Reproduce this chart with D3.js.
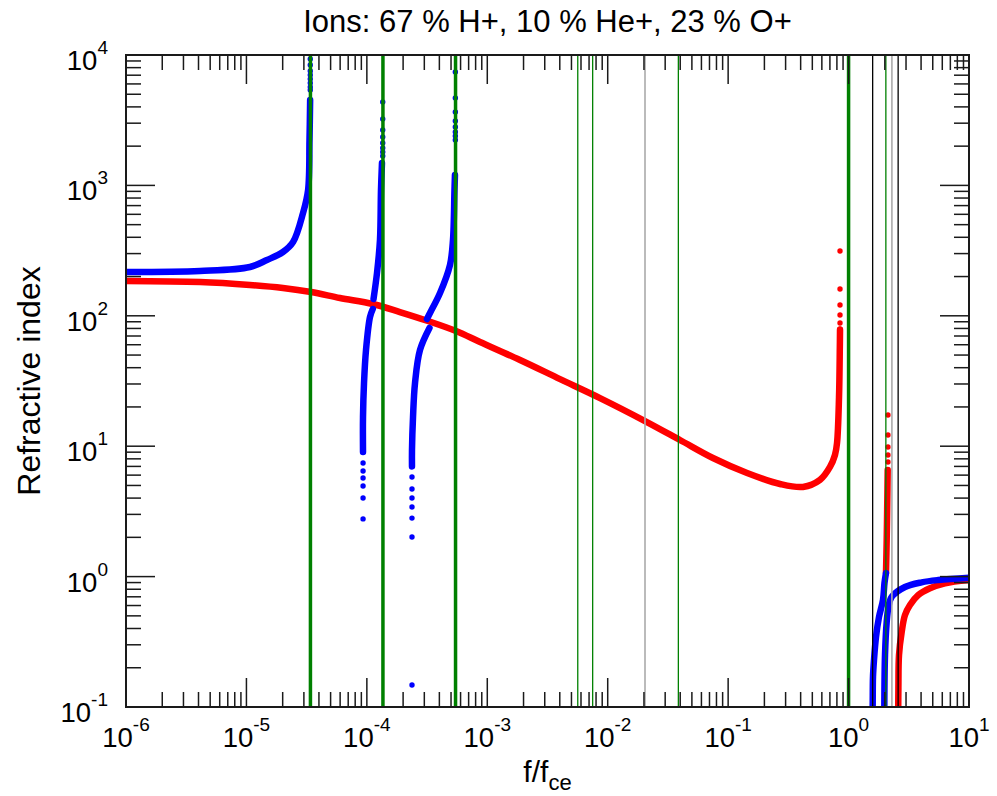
<!DOCTYPE html>
<meta charset="utf-8">
<style>
body { margin: 0; background: #fff; }
text { font-family: 'Liberation Sans', Arial, Helvetica, sans-serif; fill: #000; }
.frame { fill: none; stroke: #1a1a1a; stroke-width: 2px; }
.tick { stroke: #1a1a1a; stroke-width: 1.5px; }
</style>
<body>
<svg width="997" height="796"></svg>
<script src="https://d3js.org/d3.v7.min.js"></script>
<script>

// vertical marker frequencies (f/fce)
var cyclotronLines = [3.40e-5, 1.36e-4, 5.45e-4, 1.0];   // thick green
var plasmaLines    = [5.64e-3, 7.5e-3, 0.0386, 2.04];    // thin green
var hybridLines    = [0.0204, 2.29];                     // grey
var cutoffLines    = [1.585, 2.58];                      // black

// red mode branches [f/fce, refractive index]
var redMain = [[1e-6,185],[4.12e-6,181.6],[1.07e-5,172.3],[2.01e-5,163.4],[3.44e-5,152.2],
  [5.98e-5,136.9],[1.12e-4,123.1],[1.88e-4,106.9],[3.22e-4,91.2],[5.50e-4,76.4],[8.70e-4,63.0],
  [1.87e-3,45.8],[4.02e-3,32.7],[8.63e-3,23.4],[0.0204,15.6],[0.0398,11.16],[0.0748,8.12],
  [0.1436,6.23],[0.2696,5.13],[0.418,4.87],[0.579,5.51],[0.701,6.93],[0.771,8.56],[0.802,10.58],
  [0.833,23.8],[0.846,57.6],[0.849,78]];
var redMainDots = [[0.849,314],[0.849,160.6],[0.849,121],[0.849,101.4],[0.849,88.1],[0.849,79.2]];
var redZ = [[2.045,1.066],[2.073,1.909],[2.097,3.87],[2.113,6.57]];
var redZDots = [[2.124,7.56],[2.124,8.56],[2.124,9.86],[2.124,12.19],[2.124,17.35]];
var redX = [[2.583,0.0915],[2.593,0.1399],[2.623,0.2506],[2.761,0.376],[2.941,0.5076],[3.236,0.6057],
  [3.793,0.7227],[4.745,0.8135],[6.319,0.8885],[10,0.9416]];

// blue mode branches
var blueO = [[1e-6,216.7],[4.12e-6,220.6],[1.07e-5,236.7],[1.48e-5,267.9],[2.01e-5,308.5],
  [2.44e-5,368.1],[2.95e-5,614],[3.25e-5,921.6],[3.34e-5,2229],[3.38e-5,4517]];
var blueODots = [[3.39e-5,9318],[3.39e-5,8381],[3.39e-5,7539],[3.39e-5,7025],[3.39e-5,6546],
  [3.39e-5,6100],[3.39e-5,5683],[3.39e-5,5390]];
var blueHe = [[1.136e-4,134.5],[1.214e-4,212.9],[1.285e-4,381.3],[1.310e-4,921.6],[1.335e-4,1485]];
var blueHeDots = [[1.355e-4,4361],[1.355e-4,3230],[1.355e-4,2659],[1.355e-4,2351],[1.355e-4,2115],
  [1.355e-4,1936],[1.355e-4,1804],[1.355e-4,1681]];
var blueHeLow = [[1.12e-4,112.7],[1.062e-4,97.9],[9.84e-5,54.7],[9.47e-5,30.5],[9.29e-5,16.74],[9.29e-5,9.03]];
var blueHeLowDots = [[9.3e-5,7.43],[9.3e-5,6.45],[9.3e-5,5.70],[9.3e-5,4.95],[9.3e-5,4.01],[9.3e-5,2.77]];
var blueH = [[3.157e-4,94.5],[3.345e-4,105.1],[4.05e-4,149.5],[4.90e-4,245.3],[5.19e-4,381.3],
  [5.34e-4,921.6],[5.39e-4,1202]];
var blueHDots = [[5.43e-4,7406],[5.43e-4,4679],[5.43e-4,3655],[5.43e-4,3118],[5.43e-4,2805],
  [5.43e-4,2568],[5.43e-4,2392],[5.43e-4,2229]];
var blueHLow = [[3.31e-4,80.6],[2.763e-4,54.7],[2.511e-4,30.5],[2.417e-4,16.74],[2.37e-4,9.35],[2.37e-4,7.0]];
var blueHLowDots = [[2.37e-4,5.81],[2.37e-4,4.70],[2.37e-4,4.01],[2.37e-4,3.42],[2.37e-4,2.81],
  [2.37e-4,2.01],[2.37e-4,0.1475]];
var blueZ = [[1.574,0.0795],[1.585,0.1],[1.595,0.170],[1.626,0.229],[1.689,0.344],[1.789,0.490],
  [1.931,0.662],[1.987,0.893],[2.045,1.066]];
var blueO2 = [[1.980,0.0915],[2.007,0.2506],[2.073,0.4485],[2.137,0.574],[2.280,0.6976],[2.941,0.832],
  [4.047,0.904],[5.560,0.9416],[10,0.981]];

var xDecades = [-6, -5, -4, -3, -2, -1, 0, 1];
var yDecades = [-1, 0, 1, 2, 3, 4];

var svg = d3.select("svg"),
    margin = {top: 55, right: 28, bottom: 89, left: 126},
    width = 997 - margin.left - margin.right,
    height = 796 - margin.top - margin.bottom;

var x = d3.scaleLog().domain([1e-6, 10]).range([0, width]);
var y = d3.scaleLog().domain([0.1, 1e4]).range([height, 0]);

var g = svg.append("g").attr("transform", "translate(" + margin.left + "," + margin.top + ")");

g.append("clipPath").attr("id", "plot-clip")
  .append("rect").attr("width", width).attr("height", height);

var line = d3.line()
    .x(function(d) { return x(d[0]); })
    .y(function(d) { return y(d[1]); })
    .curve(d3.curveCatmullRom.alpha(0.5));

var curves = g.append("g").attr("clip-path", "url(#plot-clip)");

function branch(data, color) {
  curves.append("path").datum(data)
    .attr("d", line)
    .attr("fill", "none")
    .attr("stroke", color)
    .attr("stroke-width", 6.5)
    .attr("stroke-linecap", "round");
}
function dots(data, color) {
  curves.selectAll(null).data(data).enter().append("circle")
    .attr("cx", function(d) { return x(d[0]); })
    .attr("cy", function(d) { return y(d[1]); })
    .attr("r", 2.7)
    .attr("fill", color);
}

[redMain, redZ, redX].forEach(function(d) { branch(d, "#ff0000"); });
[redMainDots, redZDots].forEach(function(d) { dots(d, "#ff0000"); });
[blueO, blueHe, blueHeLow, blueH, blueHLow, blueZ, blueO2].forEach(function(d) { branch(d, "#0000ff"); });
[blueODots, blueHeDots, blueHeLowDots, blueHDots, blueHLowDots].forEach(function(d) { dots(d, "#0000ff"); });

// vertical markers
function vlines(data, color, w) {
  g.selectAll(null).data(data).enter().append("line")
    .attr("x1", function(d) { return x(d); })
    .attr("x2", function(d) { return x(d); })
    .attr("y1", 0).attr("y2", height)
    .attr("stroke", color)
    .attr("stroke-width", w);
}
vlines(hybridLines, "#aaaaaa", 1.6);
vlines(cutoffLines, "#000000", 1.3);
vlines(plasmaLines, "#008000", 1.3);
vlines(cyclotronLines, "#008000", 3.5);

// ticks, inward on all four sides
var xMinor = [], yMinor = [];
xDecades.slice(0, -1).forEach(function(e) { for (var k = 2; k < 10; k++) xMinor.push(k * Math.pow(10, e)); });
yDecades.slice(0, -1).forEach(function(e) { for (var k = 2; k < 10; k++) yMinor.push(k * Math.pow(10, e)); });
var xMajor = xDecades.map(function(e) { return Math.pow(10, e); });
var yMajor = yDecades.map(function(e) { return Math.pow(10, e); });

function xticks(vals, len) {
  vals.forEach(function(v) {
    g.append("line").attr("class", "tick").attr("x1", x(v)).attr("x2", x(v)).attr("y1", height).attr("y2", height - len);
    g.append("line").attr("class", "tick").attr("x1", x(v)).attr("x2", x(v)).attr("y1", 0).attr("y2", len);
  });
}
function yticks(vals, len) {
  vals.forEach(function(v) {
    g.append("line").attr("class", "tick").attr("y1", y(v)).attr("y2", y(v)).attr("x1", 0).attr("x2", len);
    g.append("line").attr("class", "tick").attr("y1", y(v)).attr("y2", y(v)).attr("x1", width).attr("x2", width - len);
  });
}
xticks(xMinor, 15); xticks(xMajor, 29);
yticks(yMinor, 15); yticks(yMajor, 29);

g.append("rect").attr("class", "frame").attr("width", width).attr("height", height);

// tick labels
xDecades.forEach(function(e) {
  var t = g.append("text").attr("x", x(Math.pow(10, e))).attr("y", height + 40)
    .attr("text-anchor", "middle").style("font-size", "27.5px");
  t.append("tspan").text("10");
  t.append("tspan").attr("dy", -16).style("font-size", "19px").text(e);
});
yDecades.forEach(function(e) {
  var t = g.append("text").attr("x", -18).attr("y", y(Math.pow(10, e)) + 15)
    .attr("text-anchor", "end").style("font-size", "27.5px");
  t.append("tspan").text("10");
  t.append("tspan").attr("dy", -16).style("font-size", "19px").text(e);
});

// titles
svg.append("text").attr("x", margin.left + width / 2).attr("y", 32)
  .attr("text-anchor", "middle").style("font-size", "31px")
  .text("Ions: 67 % H+, 10 % He+, 23 % O+");

var xl = svg.append("text").attr("x", margin.left + width / 2).attr("y", 782)
  .attr("text-anchor", "middle").style("font-size", "30px");
xl.append("tspan").text("f/f");
xl.append("tspan").attr("dy", 8).style("font-size", "22px").text("ce");

svg.append("text")
  .attr("transform", "translate(40," + (margin.top + height / 2) + ") rotate(-90)")
  .attr("text-anchor", "middle").style("font-size", "32px")
  .text("Refractive index");

</script>
